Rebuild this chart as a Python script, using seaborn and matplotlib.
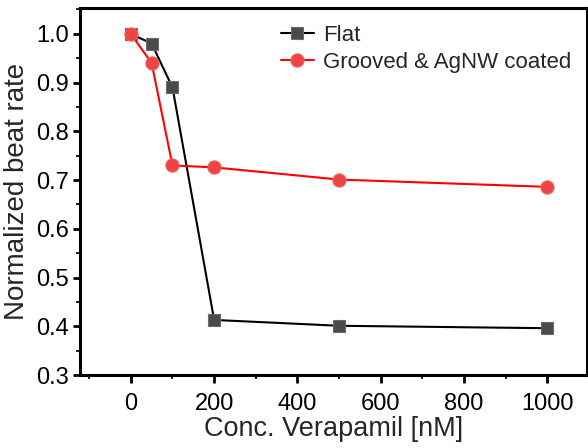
import matplotlib
matplotlib.use("Agg")
import matplotlib.pyplot as plt
import seaborn as sns
import pandas as pd
from matplotlib.ticker import MultipleLocator

conc = [0, 50, 100, 200, 500, 1000]
flat = [1.0, 0.98, 0.89, 0.413, 0.401, 0.396]
grooved = [1.0, 0.94, 0.73, 0.726, 0.701, 0.686]
series_names = ["Flat", "Grooved & AgNW coated"]
yticks = [0.3, 0.4, 0.5, 0.6, 0.7, 0.8, 0.9, 1.0]
ytick_labels = ["0.3", "0.4", "0.5", "0.6", "0.7", "0.8", "0.9", "1.0"]

df = pd.DataFrame({
    "conc": conc * 2,
    "rate": flat + grooved,
    "series": [series_names[0]] * len(conc) + [series_names[1]] * len(conc),
})

sns.set_style("white")
plt.rcParams['font.family'] = ['Liberation Sans', 'DejaVu Sans']

fig = plt.figure(figsize=(5.88, 4.48), dpi=100)
ax = fig.add_axes([80/588, 1 - 375/448, (587-80)/588, (375-8)/448])

sns.lineplot(data=df[df.series == series_names[0]], x="conc", y="rate", ax=ax,
             color="black", lw=1.5, marker="s", markersize=8,
             markerfacecolor="#4a4a4a", markeredgecolor="#6a6a6a", markeredgewidth=0.8,
             label=series_names[0])
sns.lineplot(data=df[df.series == series_names[1]], x="conc", y="rate", ax=ax,
             color="#ff0000", lw=1.5, marker="o", markersize=9.5,
             markerfacecolor="#ee4444", markeredgecolor="#f06060", markeredgewidth=0.8,
             label=series_names[1])

ax.set_xlim(-122, 1095)
ax.set_ylim(0.3, 1.053)
ax.xaxis.set_major_locator(MultipleLocator(200))
ax.xaxis.set_minor_locator(MultipleLocator(100))
ax.yaxis.set_minor_locator(MultipleLocator(0.05))
ax.set_yticks(yticks)
ax.set_yticklabels(ytick_labels)
ax.tick_params(which="major", direction="out", width=2, labelsize=17, colors="black",
               left=True, bottom=True)
ax.tick_params(axis="x", which="major", length=6, pad=7)
ax.tick_params(axis="y", which="major", length=5, pad=3)
ax.tick_params(which="minor", direction="out", length=3, width=1.5, left=True, bottom=True)
for s in ax.spines.values():
    s.set_linewidth(2.2)
    s.set_color("black")

ax.set_xlabel("Conc. Verapamil [nM]", fontsize=19.5, labelpad=1)
ax.set_ylabel("Normalized beat rate", fontsize=20, labelpad=4)

leg = ax.legend(loc="upper right", frameon=False, fontsize=16, handlelength=1.5,
                handletextpad=0.4, borderaxespad=0.2, labelspacing=0.25,
                bbox_to_anchor=(0.995, 0.99))

fig.savefig("out.png", dpi=100)
